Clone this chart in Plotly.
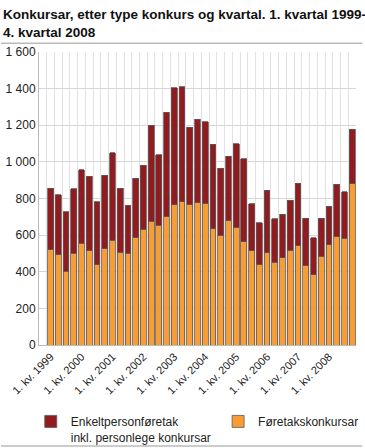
import plotly.graph_objects as go

quarters = [f"{q}. kv. {y}" for y in range(1999, 2009) for q in (1, 2, 3, 4)]
tick_labels = [f"1. kv. {y}" for y in range(1999, 2009)]

foretak = [519, 492, 402, 501, 556, 516, 439, 525, 571, 506,
           501, 587, 631, 675, 655, 701, 765, 782, 767, 776,
           770, 635, 597, 679, 641, 564, 515, 439, 504, 451,
           477, 517, 543, 433, 384, 484, 548, 590, 583, 881]
enkelt = [338, 328, 325, 351, 402, 405, 343, 403, 478, 351,
          261, 323, 350, 525, 383, 570, 639, 627, 422, 457,
          450, 461, 368, 352, 457, 452, 255, 229, 342, 239,
          237, 273, 340, 259, 202, 208, 209, 287, 254, 297]

y_ticks = [0, 200, 400, 600, 800, 1000, 1200, 1400, 1600]
y_tick_text = ["0", "200", "400", "600", "800", "1 000", "1 200", "1 400", "1 600"]

RED = "#921B1F"
ORANGE = "#F89C36"
idx = list(range(len(quarters)))

fig = go.Figure()
fig.add_bar(x=idx, y=foretak, name="Føretakskonkursar", legend="legend2",
            marker=dict(color=ORANGE, line=dict(color="#5b5b5b", width=0.8)), hovertext=quarters)
fig.add_bar(x=idx, y=enkelt, name="Enkeltpersonføretak<br>inkl. personlege konkursar", legend="legend",
            marker=dict(color=RED, line=dict(color="#5b5b5b", width=0.8)), hovertext=quarters)

legend_common = dict(orientation="h", y=-0.212, xanchor="left", yanchor="top",
                     font=dict(size=12, color="#222"), itemwidth=30, valign="top",
                     bgcolor="rgba(0,0,0,0)")
fig.update_layout(
    barmode="stack",
    bargap=0.25,
    width=365, height=448,
    margin=dict(l=39, r=9, t=52, b=103, autoexpand=False),
    plot_bgcolor="white", paper_bgcolor="white",
    font=dict(family="Liberation Sans, Arial, sans-serif", size=12, color="#222"),
    title=dict(text="<b>Konkursar, etter type konkurs og kvartal. 1. kvartal 1999-<br>4. kvartal 2008</b>",
               x=0.008, xref="container", xanchor="left", y=0.957, yref="container", yanchor="top",
               font=dict(size=13.5, color="#111")),
    showlegend=True,
    legend=dict(x=-0.026, **legend_common),
    legend2=dict(x=0.565, **legend_common),
)
fig.update_xaxes(type="linear", range=[-1.5, 39.5], tickmode="array", tickvals=idx[::4], ticktext=tick_labels,
                 tickangle=-45, tickfont=dict(size=11), showgrid=False, ticks="", zeroline=False,
                 showline=True, linecolor="#bbbbbb", automargin=False,
                 minor=dict(tick0=-0.5, dtick=1, showgrid=True, gridcolor="#e2e2e2", gridwidth=1))
fig.update_yaxes(range=[0, 1600], tickmode="array", tickvals=y_ticks, ticktext=y_tick_text,
                 showgrid=True, gridcolor="#d6d6d6", gridwidth=1, zeroline=False, automargin=False,
                 showline=True, linecolor="#bbbbbb", ticks="", tickfont=dict(size=12))
fig.add_shape(type="line", xref="paper", yref="paper", x0=-0.12, x1=1.02, y0=1.03, y1=1.03,
              line=dict(color="#bbbbbb", width=1.5))
fig.add_shape(type="line", xref="paper", yref="paper", x0=-0.12, x1=1.02, y0=-0.345, y1=-0.345,
              line=dict(color="#bbbbbb", width=1.5))
fig.write_html("out.html", config={"displayModeBar": False},
               post_script="document.body.style.margin='0';document.body.style.overflow='hidden';")
